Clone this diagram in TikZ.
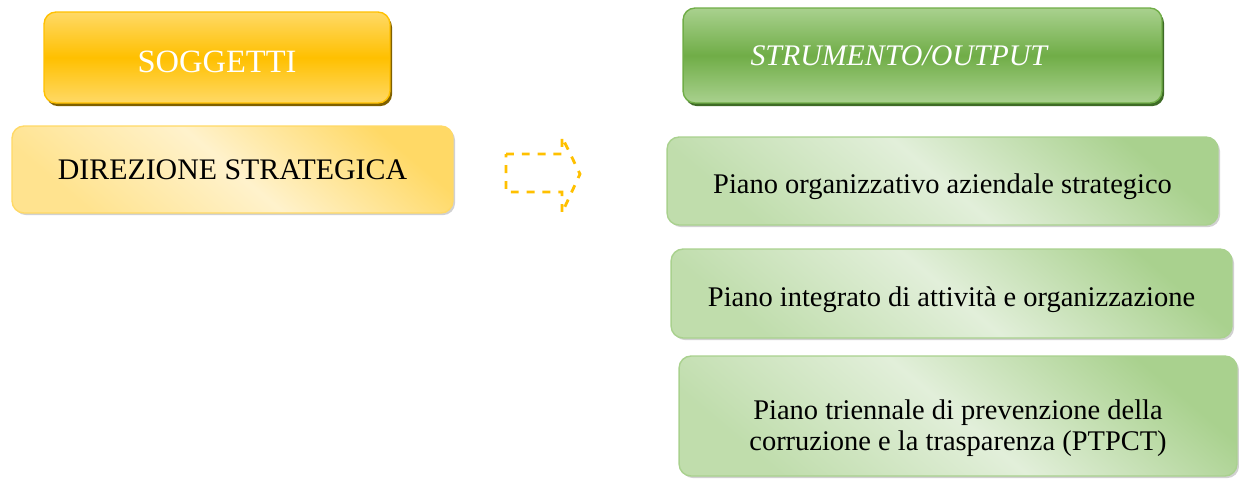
\documentclass[tikz,border=0pt]{standalone}
\usepackage{fontspec}
\setmainfont{Liberation Serif}
\usetikzlibrary{shadows, calc}

\definecolor{gold}{HTML}{FFC000}
\definecolor{goldlight}{HTML}{FFD966}
\definecolor{goldpale}{HTML}{FFF2CC}
\definecolor{goldshadow}{HTML}{7F6000}
\definecolor{grn}{HTML}{70AD47}
\definecolor{grnlight}{HTML}{A9D18E}
\definecolor{grnpale}{HTML}{E2EFDA}
\definecolor{grnshadow}{HTML}{3E6B26}

% testo abbassato senza cambiare l'ingombro
\newcommand{\lowered}[2]{\raisebox{-#1}[\height][\depth]{#2}}

\begin{document}
\begin{tikzpicture}[x=0.02cm, y=-0.02cm,
    box/.style={rounded corners=0.24cm, line width=0.8pt, align=center, inner sep=0pt},
    headgold/.style={box, draw=gold, top color=goldlight, bottom color=goldlight, middle color=gold,
        text=white, font=\fontsize{18.5}{20}\selectfont,
        general shadow={fill=goldshadow, shadow xshift=1.2pt, shadow yshift=-1.8pt}},
    headgrn/.style={box, draw=grn, top color=grnlight, bottom color=grnlight, middle color=grn,
        text=white, font=\fontsize{17}{20}\selectfont\itshape,
        general shadow={fill=grnshadow, shadow xshift=1.2pt, shadow yshift=-1.8pt}},
    itemgold/.style={box, draw=goldlight, top color=goldlight, bottom color=goldlight!60!goldpale, middle color=goldpale,
        shading angle=-40, font=\fontsize{17}{19}\selectfont,
        general shadow={fill=black!30, opacity=0.6, shadow xshift=1.2pt, shadow yshift=-1.2pt}},
    itemgrn/.style={box, draw=grnlight, top color=grnlight, bottom color=grnlight!60!grnpale, middle color=grnpale,
        shading angle=-40, font=\fontsize{16.2}{17.3}\selectfont,
        general shadow={fill=black!30, opacity=0.6, shadow xshift=1.2pt, shadow yshift=-1.2pt}}
    ]
    \useasboundingbox (0,0) rectangle (1239,478);
    \clip (0,0) rectangle (1239,478);

    \node[headgold, minimum width=6.92cm, minimum height=1.82cm] (sogg) at (217, 57.5) {\lowered{0.08cm}{SOGGETTI}};
    \node[itemgold, minimum width=8.82cm, minimum height=1.74cm] (dir) at (232.5, 169.5) {DIREZIONE STRATEGICA};

    \node[headgrn, minimum width=9.58cm, minimum height=1.9cm] (strum) at (922.5, 55.5) {\hspace*{-0.95cm}STRUMENTO/OUTPUT};
    \node[itemgrn, minimum width=11.02cm, minimum height=1.76cm] (poas) at (942.5, 181) {\lowered{0.11cm}{Piano organizzativo aziendale strategico}};
    \node[itemgrn, minimum width=11.22cm, minimum height=1.78cm] (piao) at (951.5, 293.5) {\lowered{0.13cm}{Piano integrato di attività e organizzazione}};
    \node[itemgrn, minimum width=11.16cm, minimum height=2.4cm] (ptpct) at (958, 416)
        {\lowered{0.24cm}{\shortstack{Piano triennale di prevenzione della\\corruzione e la trasparenza (PTPCT)}}};

    % freccia tratteggiata
    \draw[gold, line width=1.6pt, dash pattern=on 4.5pt off 4.5pt]
        (506,154) -- (562,154) -- (562,137) -- (580,174) -- (562,213) -- (562,192) -- (506,192) -- cycle;
\end{tikzpicture}
\end{document}
